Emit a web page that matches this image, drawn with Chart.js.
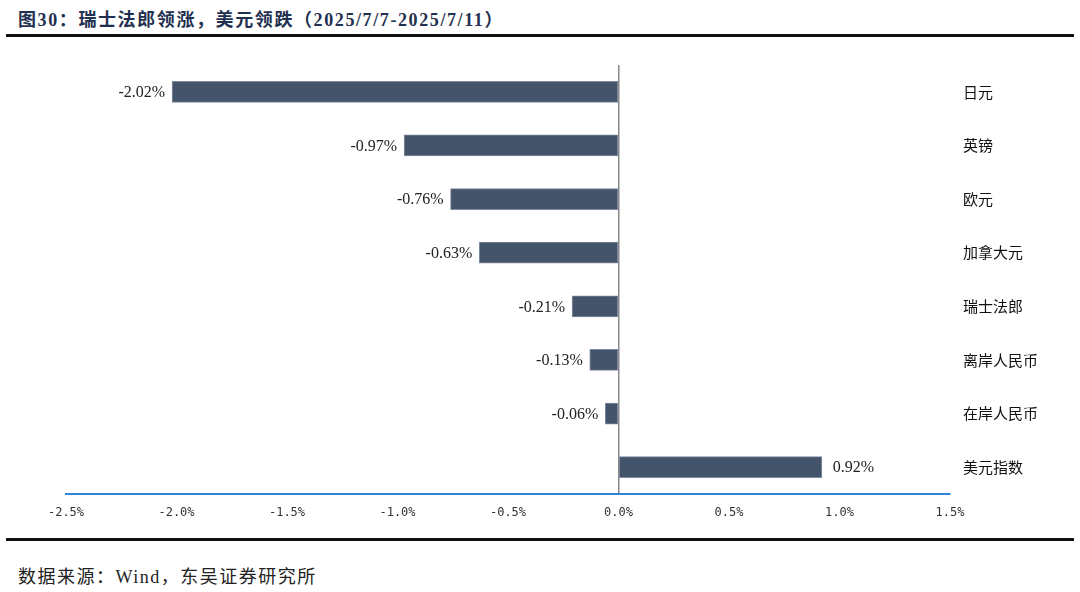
<!DOCTYPE html>
<html>
<head>
<meta charset="utf-8">
<script src="https://cdn.jsdelivr.net/npm/chart.js@4.4.0/dist/chart.umd.min.js"></script>
<style>
  body { margin: 0; background: #fff; width: 1080px; height: 592px; overflow: hidden; position: relative; }
  #title { position: absolute; left: 18px; top: 5px; font: bold 18px "Liberation Serif", "Noto Sans CJK SC", serif; letter-spacing: 1.6px; color: #1f3050; white-space: nowrap; }
  .rule { position: absolute; left: 6px; width: 1068px; height: 3px; background: #111; }
  #chartBox { position: absolute; left: 0; top: 37px; width: 1080px; height: 502px; }
  #source { position: absolute; left: 18px; top: 562px; font: 18px "Liberation Serif", "Noto Sans CJK SC", serif; letter-spacing: 1.5px; color: #222; white-space: nowrap; }
</style>
</head>
<body>
<div id="title">图30：瑞士法郎领涨，美元领跌（2025/7/7-2025/7/11）</div>
<div class="rule" style="top:34px"></div>
<div id="chartBox"><canvas id="fxChart"></canvas></div>
<div class="rule" style="top:538px"></div>
<div id="source">数据来源：Wind，东吴证券研究所</div>
<script>
// weekly change, %
const currencies = ['日元', '英镑', '欧元', '加拿大元', '瑞士法郎', '离岸人民币', '在岸人民币', '美元指数'];
const changes = [-2.02, -0.97, -0.76, -0.63, -0.21, -0.13, -0.06, 0.92];
const xTicks = [-2.5, -2.0, -1.5, -1.0, -0.5, 0.0, 0.5, 1.0, 1.5];

// value labels next to bar ends
const barLabels = {
  id: 'barLabels',
  afterDatasetsDraw(chart) {
    const ctx = chart.ctx;
    const meta = chart.getDatasetMeta(0);
    ctx.save();
    ctx.font = '16px "Liberation Serif", serif';
    ctx.fillStyle = '#222';
    ctx.textBaseline = 'middle';
    meta.data.forEach((bar, i) => {
      const v = changes[i];
      const txt = v.toFixed(2) + '%';
      if (v < 0) {
        ctx.textAlign = 'right';
        ctx.fillText(txt, bar.x - 7, bar.y + 1);
      } else {
        ctx.textAlign = 'left';
        ctx.fillText(txt, bar.x + 11, bar.y + 1);
      }
    });
    ctx.restore();
  }
};

new Chart(document.getElementById('fxChart').getContext('2d'), {
  type: 'bar',
  data: {
    labels: currencies,
    datasets: [{
      data: changes,
      backgroundColor: '#44546a',
      borderColor: '#7f8ba0',
      borderWidth: 1,
      borderSkipped: false,
      barThickness: 21
    }]
  },
  options: {
    indexAxis: 'y',
    responsive: true,
    maintainAspectRatio: false,
    animation: false,
    layout: { padding: { left: 66, top: 28, right: 0, bottom: 0 } },
    plugins: { legend: { display: false }, tooltip: { enabled: false } },
    scales: {
      x: {
        min: -2.5, max: 1.5,
        afterBuildTicks: s => { s.ticks = xTicks.map(v => ({ value: v })); },
        afterFit: s => { s.height = 45; },
        border: { display: true, color: '#2f86d6', width: 2 },
        grid: {
          drawTicks: false,
          color: c => (c.tick && c.tick.value === 0 ? '#888' : 'transparent'),
          lineWidth: 1.5
        },
        ticks: {
          padding: 12,
          color: '#333',
          font: { family: '"DejaVu Sans Mono", monospace', size: 12 },
          callback: v => (v < 0 ? '-' : '') + Math.abs(v).toFixed(1) + '%'
        }
      },
      y: {
        position: 'right',
        afterFit: s => { s.width = 130; },
        border: { display: false },
        grid: { display: false },
        ticks: {
          padding: 5,
          color: '#111',
          font: { family: '"Noto Sans CJK SC", sans-serif', size: 15 }
        }
      }
    }
  },
  plugins: [barLabels]
});
</script>
</body>
</html>
